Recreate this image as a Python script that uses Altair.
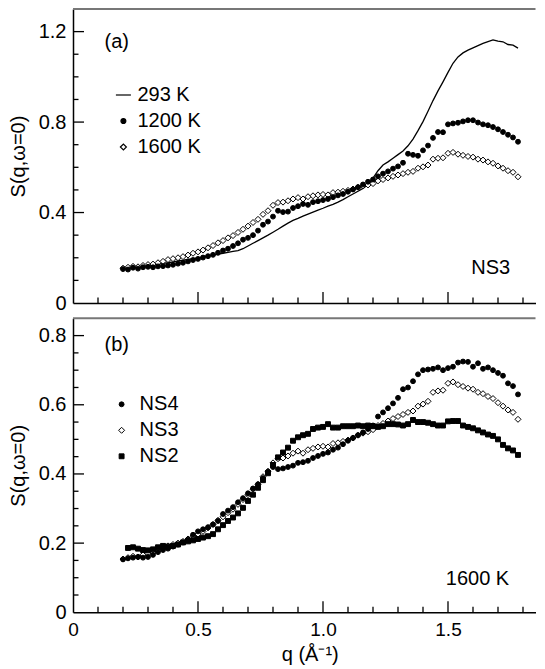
import altair as alt
import pandas as pd

# ---------------- data ----------------
q = [0.20, 0.22, 0.24, 0.26, 0.28, 0.30, 0.32, 0.34, 0.36, 0.38,
     0.40, 0.42, 0.44, 0.46, 0.48, 0.50, 0.52, 0.54, 0.56, 0.58,
     0.60, 0.62, 0.64, 0.66, 0.68, 0.70, 0.72, 0.74, 0.76, 0.78,
     0.80, 0.82, 0.84, 0.86, 0.88, 0.90, 0.92, 0.94, 0.96, 0.98,
     1.00, 1.02, 1.04, 1.06, 1.08, 1.10, 1.12, 1.14, 1.16, 1.18,
     1.20, 1.22, 1.24, 1.26, 1.28, 1.30, 1.32, 1.34, 1.36, 1.38,
     1.40, 1.42, 1.44, 1.46, 1.48, 1.50, 1.52, 1.54, 1.56, 1.58,
     1.60, 1.62, 1.64, 1.66, 1.68, 1.70, 1.72, 1.74, 1.76, 1.78]

s_293K = [0.150, 0.153, 0.156, 0.158, 0.162, 0.166, 0.169, 0.171, 0.175, 0.178,
          0.182, 0.186, 0.189, 0.193, 0.196, 0.199, 0.203, 0.208, 0.212, 0.216,
          0.220, 0.224, 0.228, 0.232, 0.240, 0.252, 0.264, 0.276, 0.288, 0.300,
          0.313, 0.326, 0.340, 0.353, 0.365, 0.374, 0.384, 0.393, 0.402, 0.411,
          0.419, 0.428, 0.436, 0.446, 0.457, 0.470, 0.482, 0.494, 0.507, 0.524,
          0.552, 0.585, 0.610, 0.624, 0.640, 0.656, 0.672, 0.695, 0.725, 0.762,
          0.802, 0.848, 0.895, 0.938, 0.978, 1.020, 1.060, 1.088, 1.106, 1.118,
          1.128, 1.138, 1.148, 1.156, 1.163, 1.158, 1.155, 1.143, 1.140, 1.127]

s_1200K = [0.150, 0.148, 0.156, 0.152, 0.158, 0.160, 0.158, 0.162, 0.163, 0.166,
           0.169, 0.174, 0.178, 0.184, 0.190, 0.195, 0.201, 0.207, 0.213, 0.222,
           0.232, 0.240, 0.252, 0.264, 0.280, 0.288, 0.300, 0.320, 0.346, 0.360,
           0.382, 0.408, 0.402, 0.404, 0.420, 0.428, 0.438, 0.434, 0.446, 0.450,
           0.455, 0.460, 0.468, 0.476, 0.482, 0.492, 0.502, 0.512, 0.524, 0.536,
           0.546, 0.560, 0.572, 0.582, 0.594, 0.604, 0.620, 0.660, 0.655, 0.651,
           0.675, 0.696, 0.730, 0.756, 0.755, 0.790, 0.794, 0.797, 0.803, 0.808,
           0.808, 0.798, 0.790, 0.786, 0.778, 0.768, 0.756, 0.744, 0.732, 0.713]

# NS3 at 1600 K (same measurement appears in both panels)
s_1600K = [0.154, 0.158, 0.162, 0.160, 0.166, 0.170, 0.172, 0.178, 0.184, 0.192,
           0.196, 0.200, 0.205, 0.212, 0.220, 0.226, 0.234, 0.244, 0.254, 0.266,
           0.276, 0.288, 0.298, 0.312, 0.326, 0.340, 0.356, 0.370, 0.392, 0.408,
           0.432, 0.444, 0.446, 0.452, 0.460, 0.466, 0.460, 0.470, 0.474, 0.478,
           0.480, 0.478, 0.488, 0.490, 0.494, 0.498, 0.504, 0.512, 0.518, 0.522,
           0.528, 0.540, 0.546, 0.553, 0.560, 0.566, 0.572, 0.578, 0.582, 0.596,
           0.602, 0.610, 0.636, 0.640, 0.642, 0.662, 0.666, 0.658, 0.653, 0.648,
           0.645, 0.636, 0.632, 0.624, 0.618, 0.606, 0.596, 0.585, 0.578, 0.558]

ns4 = [0.153, 0.156, 0.158, 0.160, 0.158, 0.160, 0.166, 0.174, 0.180, 0.184,
       0.190, 0.196, 0.202, 0.210, 0.224, 0.234, 0.240, 0.246, 0.254, 0.264,
       0.284, 0.294, 0.304, 0.318, 0.330, 0.344, 0.358, 0.370, 0.388, 0.406,
       0.420, 0.414, 0.416, 0.420, 0.424, 0.432, 0.434, 0.438, 0.446, 0.452,
       0.458, 0.462, 0.470, 0.476, 0.486, 0.496, 0.504, 0.512, 0.520, 0.530,
       0.540, 0.566, 0.578, 0.590, 0.604, 0.620, 0.645, 0.650, 0.668, 0.688,
       0.700, 0.702, 0.704, 0.708, 0.700, 0.706, 0.710, 0.722, 0.725, 0.724,
       0.710, 0.720, 0.704, 0.708, 0.700, 0.692, 0.684, 0.662, 0.654, 0.630]

ns3 = s_1600K

# NS2 starts at q = 0.22
q_ns2 = q[1:]
ns2 = [0.186, 0.188, 0.184, 0.180, 0.179, 0.182, 0.188, 0.192, 0.190,
       0.192, 0.196, 0.202, 0.205, 0.208, 0.212, 0.216, 0.220, 0.226, 0.240,
       0.252, 0.264, 0.274, 0.286, 0.302, 0.322, 0.340, 0.360, 0.382, 0.402,
       0.426, 0.448, 0.462, 0.476, 0.496, 0.506, 0.512, 0.516, 0.530, 0.534,
       0.536, 0.544, 0.534, 0.534, 0.538, 0.538, 0.538, 0.540, 0.538, 0.540,
       0.538, 0.536, 0.538, 0.544, 0.544, 0.543, 0.540, 0.544, 0.556, 0.550,
       0.550, 0.548, 0.544, 0.540, 0.540, 0.552, 0.553, 0.553, 0.540, 0.536,
       0.532, 0.526, 0.520, 0.514, 0.510, 0.500, 0.484, 0.474, 0.468, 0.455]

series_a = ["\u00a0\u00a0293 K", "1200 K", "1600 K"]
series_b = ["NS4", "NS3", "NS2"]

x_major = [0.5, 1.0, 1.5]
x_minor = [0.1, 0.2, 0.3, 0.4, 0.6, 0.7, 0.8, 0.9, 1.1, 1.2, 1.3, 1.4, 1.6, 1.7, 1.8]
ya_major = [0.4, 0.8, 1.2]
ya_minor = [0.1, 0.2, 0.3, 0.5, 0.6, 0.7, 0.9, 1.0, 1.1]
yb_major = [0.2, 0.4, 0.6, 0.8]
yb_minor = [0.05, 0.1, 0.15, 0.25, 0.3, 0.35, 0.45, 0.5, 0.55, 0.65, 0.7, 0.75]

x_labels = [0, 0.5, 1.0, 1.5]
ya_labels = [0, 0.4, 0.8, 1.2]
yb_labels = [0, 0.2, 0.4, 0.6, 0.8]

# ---------------- layout / style ----------------
FONT = "Liberation Sans"
W, H = 462.5, 294
X_DOM = [0, 1.85]
YA_DOM = [0, 1.3]
YB_DOM = [0, 0.85]
MAJ, MIN = 11, 5.5   # tick lengths in pixels
TICK_COLOR = "black"

lbl_expr = "datum.value == 0 ? '0' : format(datum.value, '.1f')"


def xscale():
    return alt.Scale(domain=X_DOM, nice=False, zero=False)


def yscale(dom):
    return alt.Scale(domain=dom, nice=False, zero=False)


def x_axis(show):
    if show:
        return alt.Axis(values=x_labels, labelExpr=lbl_expr, ticks=False, grid=False,
                        labelFont=FONT, labelFontSize=19, labelColor="black",
                        labelPadding=8, labelFlush=False, labelOverlap=False,
                        domainColor="black", domainWidth=1.5,
                        title="q (\u00c5\u207b\u00b9)", titleFont=FONT, titleFontSize=20,
                        titleFontWeight="normal", titleColor="black", titlePadding=5,
                        titleX=236.7, titleAlign="center")
    return alt.Axis(labels=False, ticks=False, grid=False, title=None,
                    domainColor="black", domainWidth=1.5)


def y_axis(vals):
    return alt.Axis(values=vals, labelExpr=lbl_expr, ticks=False, grid=False,
                    labelFont=FONT, labelFontSize=20, labelColor="black",
                    labelPadding=7, labelFlush=False, labelOverlap=False,
                    domainColor="black", domainWidth=1.5,
                    title="S(q,\u03c9=0)", titleFont=FONT, titleFontSize=20,
                    titleFontWeight="normal", titleColor="black", titlePadding=10)


one = pd.DataFrame({"k": [0]})


def tick_layers(ydom, ymaj, ymin, xax, yax):
    layers = []
    ypx = (ydom[1] - ydom[0]) / H          # data units per pixel (y)
    xpx = (X_DOM[1] - X_DOM[0]) / W        # data units per pixel (x)
    for vals, ln in ((x_major, MAJ), (x_minor, MIN)):
        d = pd.DataFrame({"t": vals})
        d["a"] = ydom[0]
        d["b"] = ydom[0] + ln * ypx
        layers.append(
            alt.Chart(d).mark_rule(color=TICK_COLOR, strokeWidth=1.3).encode(
                x=alt.X("t:Q", scale=xscale(), axis=xax),
                y=alt.Y("a:Q", scale=yscale(ydom), axis=yax),
                y2="b:Q"))
    for vals, ln in ((ymaj, MAJ), (ymin, MIN)):
        d = pd.DataFrame({"t": vals})
        d["a"] = X_DOM[0]
        d["b"] = X_DOM[0] + ln * xpx
        layers.append(
            alt.Chart(d).mark_rule(color=TICK_COLOR, strokeWidth=1.3).encode(
                y=alt.Y("t:Q", scale=yscale(ydom), axis=yax),
                x=alt.X("a:Q", scale=xscale(), axis=xax),
                x2="b:Q"))
    top = pd.DataFrame({"a": [X_DOM[0]], "b": [X_DOM[1]], "t": [ydom[1]]})
    layers.append(
        alt.Chart(top).mark_rule(color="#777777", strokeWidth=2).encode(
            x=alt.X("a:Q", scale=xscale(), axis=xax), x2="b:Q",
            y=alt.Y("t:Q", scale=yscale(ydom), axis=yax)))
    return layers


def note(text, px, py):
    return alt.Chart(one).mark_text(font=FONT, fontSize=20, color="black",
                                    align="center", baseline="middle").encode(
        x=alt.value(px), y=alt.value(py), text=alt.value(text))


# ---------------- panel (a) ----------------
xa_ax = x_axis(False)
ya_ax = y_axis(ya_labels)

df_line = pd.DataFrame({"q": q, "S": s_293K})
df_pts_a = pd.concat([
    pd.DataFrame({"q": q, "S": s_1600K, "temp": "1600 K"}),
    pd.DataFrame({"q": q, "S": s_1200K, "temp": "1200 K"}),
], ignore_index=True)

leg_a = alt.Legend(orient="none", legendX=40.4, legendY=76, title=None, padding=0,
                   labelFont=FONT, labelFontSize=20, labelColor="black", labelOffset=4,
                   rowPadding=6, symbolStrokeWidth=1.2)

line_a = alt.Chart(df_line).mark_line(color="black", strokeWidth=1.3).encode(
    x=alt.X("q:Q", scale=xscale(), axis=xa_ax),
    y=alt.Y("S:Q", scale=yscale(YA_DOM), axis=ya_ax))

pts_a = alt.Chart(df_pts_a).mark_point(strokeWidth=1, opacity=1, fillOpacity=1).encode(
    x=alt.X("q:Q", scale=xscale(), axis=xa_ax),
    y=alt.Y("S:Q", scale=yscale(YA_DOM), axis=ya_ax),
    shape=alt.Shape("temp:N", scale=alt.Scale(domain=series_a, range=["stroke", "circle", "diamond"]), legend=leg_a),
    fill=alt.Fill("temp:N", scale=alt.Scale(domain=series_a, range=["black", "black", "white"]), legend=leg_a),
    stroke=alt.Stroke("temp:N", scale=alt.Scale(domain=series_a, range=["black", "black", "black"]), legend=leg_a),
    size=alt.Size("temp:N", scale=alt.Scale(type="ordinal", domain=series_a, range=[225, 24, 36]), legend=leg_a),
)

panel_a = alt.layer(
    line_a, pts_a,
    *tick_layers(YA_DOM, ya_major, ya_minor, xa_ax, ya_ax),
    note("(a)", 43.7, 32.7), note("NS3", 417.7, 259.3),
).properties(width=W, height=H)

# ---------------- panel (b) ----------------
xb_ax = x_axis(True)
yb_ax = y_axis(yb_labels)

df_pts_b = pd.concat([
    pd.DataFrame({"q": q, "S": ns3, "sample": "NS3"}),
    pd.DataFrame({"q": q_ns2, "S": ns2, "sample": "NS2"}),
    pd.DataFrame({"q": q, "S": ns4, "sample": "NS4"}),
], ignore_index=True)

leg_b = alt.Legend(orient="none", legendX=38.6, legendY=76, title=None, padding=0,
                   labelFont=FONT, labelFontSize=20, labelColor="black", labelOffset=8,
                   rowPadding=6, symbolStrokeWidth=1)

pts_b = alt.Chart(df_pts_b).mark_point(strokeWidth=1, opacity=1, fillOpacity=1).encode(
    x=alt.X("q:Q", scale=xscale(), axis=xb_ax),
    y=alt.Y("S:Q", scale=yscale(YB_DOM), axis=yb_ax),
    shape=alt.Shape("sample:N", scale=alt.Scale(domain=series_b, range=["circle", "diamond", "square"]), legend=leg_b),
    fill=alt.Fill("sample:N", scale=alt.Scale(domain=series_b, range=["black", "white", "black"]), legend=leg_b),
    stroke=alt.Stroke("sample:N", scale=alt.Scale(domain=series_b, range=["black", "black", "black"]), legend=leg_b),
    size=alt.Size("sample:N", scale=alt.Scale(type="ordinal", domain=series_b, range=[24, 36, 24]), legend=leg_b),
)

panel_b = alt.layer(
    pts_b,
    *tick_layers(YB_DOM, yb_major, yb_minor, xb_ax, yb_ax),
    note("(b)", 43.7, 27), note("1600 K", 404.5, 260.3),
).properties(width=W, height=H)

chart = alt.VConcatChart(vconcat=[panel_a, panel_b], spacing=15.3, bounds="flush", padding=0,
                         background="white").resolve_scale(
    x="independent", y="independent", shape="independent", fill="independent",
    stroke="independent", size="independent"
).configure_view(stroke=None)

chart.save("out.html", embed_options={"renderer": "svg", "actions": False})
